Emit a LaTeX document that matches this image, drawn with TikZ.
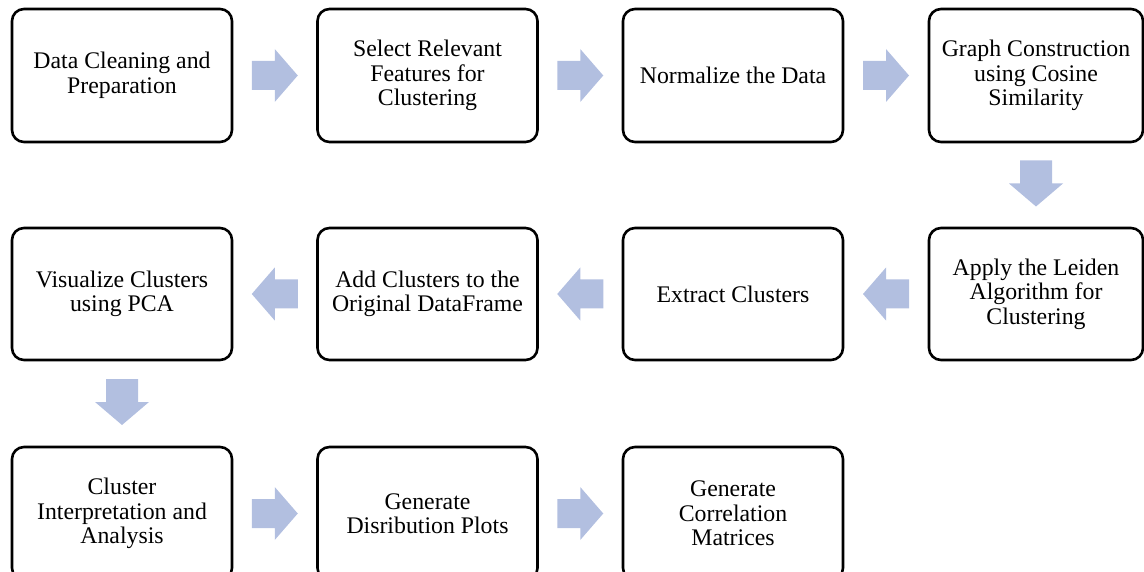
\documentclass[tikz,border=0pt]{standalone}
\usepackage{fontspec}
\setmainfont{Liberation Serif}
\usetikzlibrary{calc}
\definecolor{arrowc}{RGB}{178,191,224}
\tikzset{
  stepbox/.style={draw=black, line width=2.6pt, rounded corners=12pt, fill=white,
    minimum width=220pt, minimum height=133pt, inner sep=0pt, align=center,
    font=\fontsize{23.8pt}{24.5pt}\selectfont, text=black},
}
\newcommand\rarr[2]{\path let \p1=($(#1.east)!0.5!(#2.west)$) in [fill=arrowc]
  (\x1-23pt,\y1-14.5pt) -- (\x1,\y1-14.5pt) -- (\x1,\y1-26.5pt) -- (\x1+23pt,\y1)
  -- (\x1,\y1+26.5pt) -- (\x1,\y1+14.5pt) -- (\x1-23pt,\y1+14.5pt) -- cycle;}
\newcommand\larr[2]{\path let \p1=($(#1.west)!0.5!(#2.east)$) in [fill=arrowc]
  (\x1+23pt,\y1-14.5pt) -- (\x1,\y1-14.5pt) -- (\x1,\y1-26.5pt) -- (\x1-23pt,\y1)
  -- (\x1,\y1+26.5pt) -- (\x1,\y1+14.5pt) -- (\x1+23pt,\y1+14.5pt) -- cycle;}
\newcommand\darr[2]{\path let \p1=($(#1.south)!0.5!(#2.north)+(0,1.5pt)$) in [fill=arrowc]
  (\x1-16pt,\y1+23pt) -- (\x1-16pt,\y1) -- (\x1-27pt,\y1) -- (\x1,\y1-23pt)
  -- (\x1+27pt,\y1) -- (\x1+16pt,\y1) -- (\x1+16pt,\y1+23pt) -- cycle;}
\begin{document}
\begin{tikzpicture}[x=1pt,y=-1pt]
\useasboundingbox (0,0) rectangle (1144,572);
\clip (0,0) rectangle (1144,572);
% row 1
\node[stepbox] (n1) at (122,75.5) {Data Cleaning and\\Preparation};
\node[stepbox] (n2) at (427.5,75.5) {Select Relevant\\Features for\\Clustering};
\node[stepbox] (n3) at (733,75.5) {Normalize the Data};
\node[stepbox, minimum width=214pt] (n4) at (1036,75.5) {Graph Construction\\using Cosine\\Similarity};
% row 2
\node[stepbox, minimum width=214pt, minimum height=132pt] (n5) at (1036,294) {Apply the Leiden\\Algorithm for\\Clustering};
\node[stepbox, minimum height=132pt] (n6) at (733,294) {Extract Clusters};
\node[stepbox, minimum height=132pt] (n7) at (427.5,294) {Add Clusters to the\\Original DataFrame};
\node[stepbox, minimum height=132pt] (n8) at (122,294) {Visualize Clusters\\using PCA};
% row 3
\node[stepbox] (n9) at (122,513.5) {Cluster\\Interpretation and\\Analysis};
\node[stepbox] (n10) at (427.5,513.5) {Generate\\Disribution Plots};
\node[stepbox] (n11) at (733,513.5) {Generate\\Correlation\\Matrices};
% arrows
\rarr{n1}{n2}
\rarr{n2}{n3}
\rarr{n3}{n4}
\darr{n4}{n5}
\larr{n5}{n6}
\larr{n6}{n7}
\larr{n7}{n8}
\darr{n8}{n9}
\rarr{n9}{n10}
\rarr{n10}{n11}
\end{tikzpicture}
\end{document}
